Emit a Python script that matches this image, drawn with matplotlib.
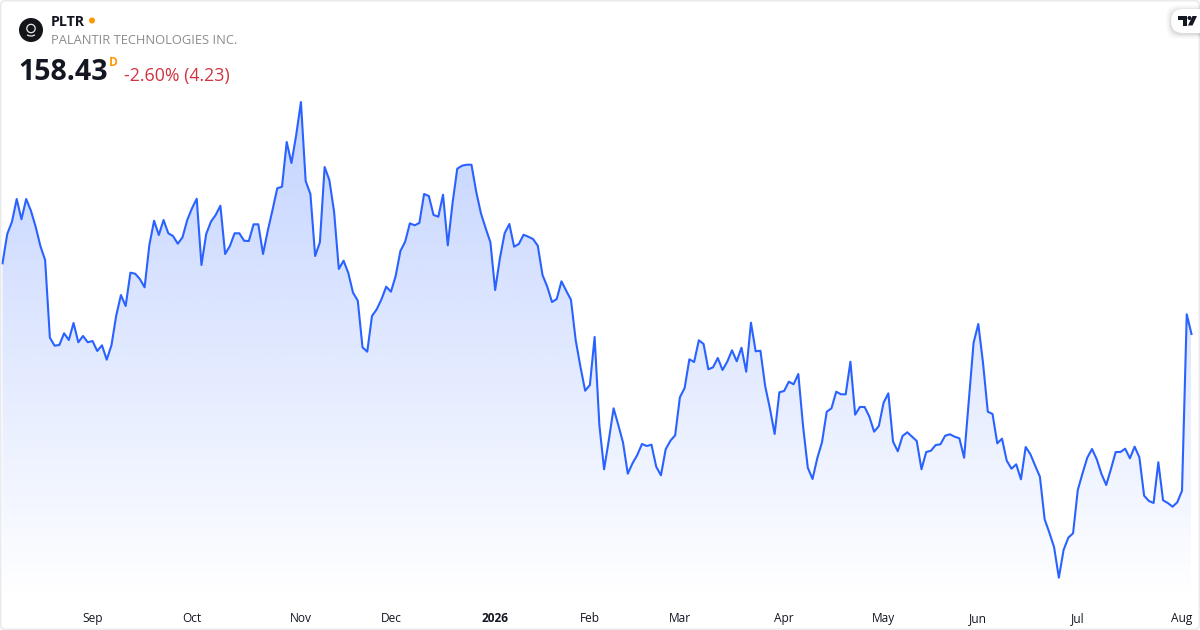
import numpy as np
import matplotlib
matplotlib.use("Agg")
import matplotlib.pyplot as plt
from matplotlib.patches import Circle, FancyBboxPatch, Polygon, Arc

plt.rcParams['font.family'] = ['Open Sans', 'Noto Sans', 'DejaVu Sans']

ticker = "PLTR"
company = "PALANTIR TECHNOLOGIES INC."
last_price = "158.43"
interval = "D"
change_text = "-2.60% (4.23)"

month_labels = ["Sep", "Oct", "Nov", "Dec", "2026", "Feb", "Mar", "Apr", "May", "Jun", "Jul", "Aug"]
month_index = [19, 40, 63, 82, 104, 124, 143, 165, 186, 206, 227, 249]

close_aug_dec = [
    173.38, 179.57, 182.17, 186.97, 182.68, 186.97, 184.50, 181.11, 177.03, 174.07,
    157.65, 155.96, 156.10, 158.58, 157.16, 160.76, 156.68, 158.01, 156.68, 156.95,
    154.84, 156.04, 153.00, 156.04, 162.30, 166.67, 164.35, 171.39, 171.18, 170.06,
    168.30, 177.24, 182.38, 179.36, 182.53, 179.72, 179.15, 177.52, 178.87, 182.53,
    185.00, 187.03, 173.02, 179.57, 182.17, 183.59, 185.55, 175.34, 177.03, 179.72,
    179.72, 178.15, 178.09, 181.62, 181.62, 175.34, 180.27, 184.64, 189.23, 189.57,
    199.02, 194.58, 200.50, 207.47, 190.77, 188.03, 174.92, 177.82, 193.73, 190.99,
    184.28, 172.17, 173.93, 171.33, 167.16, 165.47, 155.62, 154.69, 162.24, 163.65,
    165.77, 168.43, 167.37, 170.69, 175.98,
]
close_dec_apr = [
    177.94, 181.83, 181.41, 181.90, 188.03, 187.60, 183.59, 183.23, 187.88, 177.18,
    186.06, 193.37, 194.01, 194.22, 194.22, 188.51, 183.95, 180.78, 177.82, 167.73,
    174.43, 179.72, 181.68, 176.89, 177.46, 179.42, 179.00, 178.51, 177.10, 170.90,
    168.43, 165.19, 165.83, 169.57, 167.58, 165.68, 157.16, 151.52, 146.44, 147.65,
    157.80, 139.19, 129.83, 136.02, 142.72, 139.19, 135.45, 128.90, 131.10, 132.85,
    135.18, 134.75, 135.03, 130.38, 128.56, 134.06, 135.87, 137.02, 145.05, 147.01,
    153.08, 152.51, 157.10, 156.32, 150.97, 151.39, 153.36, 150.82, 152.57, 154.98,
    152.66, 155.53, 150.46, 160.82, 154.77, 154.90, 147.44, 142.72, 137.29, 146.11,
    146.38, 148.35, 147.80, 149.97,
]
close_apr_aug = [
    138.98, 130.17, 127.78, 132.15, 135.54, 142.00, 142.72, 146.23, 145.68, 145.68,
    152.57, 141.37, 143.00, 143.00, 140.95, 137.78, 138.98, 143.91, 145.89, 135.66,
    133.63, 136.87, 137.65, 136.72, 135.81, 129.83, 133.48, 133.76, 134.96, 135.11,
    136.93, 137.23, 136.72, 136.38, 132.28, 144.48, 156.59, 160.54, 152.24, 142.00,
    141.52, 135.32, 136.30, 131.65, 129.95, 130.88, 127.71, 134.54, 133.00, 130.59,
    128.26, 119.26, 116.42, 113.34, 106.91, 112.77, 115.37, 116.30, 125.45, 128.98,
    132.28, 134.12, 131.94, 128.83, 126.51, 129.89, 133.48, 133.48, 134.18, 132.15,
    134.61, 132.36, 124.25, 123.13, 122.70, 131.31, 123.27, 122.70, 121.92, 122.85,
    125.30, 162.59, 158.43,
]
close = close_aug_dec + close_dec_apr + close_apr_aug
idx = np.arange(len(close))

W, H = 1200, 630
LINE = "#2962FF"

fig = plt.figure(figsize=(W / 100, H / 100), dpi=100, facecolor="white")
ax = fig.add_axes([0, 0, 1, 1])
ax.set_facecolor("none")

px_per_bar = 4.737
px_per_usd = 4.73
x_lim = (-2.5 / px_per_bar, (W - 2.5) / px_per_bar)
ymax = close[-1] + 334 / px_per_usd
ymin = close[-1] - (H - 334) / px_per_usd

base = ymin + 30 / px_per_usd
top = max(close)
grad = np.zeros((256, 2, 4))
grad[..., 0] = 0x29 / 255
grad[..., 1] = 0x62 / 255
grad[..., 2] = 0xFF / 255
grad[..., 3] = np.linspace(0.28, 0.0, 256)[:, None]
area = ax.fill_between(idx, close, base, color="none", lw=0)
im = ax.imshow(grad, extent=[idx[0], idx[-1], base, top], origin="upper",
               aspect="auto", interpolation="bilinear", zorder=1)
im.set_clip_path(area.get_paths()[0], transform=ax.transData)
ax.set_xlim(*x_lim)
ax.set_ylim(ymin, ymax)

ax.plot(idx, close, color=LINE, lw=1.5, zorder=3, solid_joinstyle="round")

ax.set_xticks(month_index)
ax.set_xticklabels(month_labels, fontsize=8.6, color="#131722")
ax.tick_params(axis="x", length=0, direction="in", pad=-12.8)
for lab in ax.get_xticklabels():
    if lab.get_text() == "2026":
        lab.set_fontweight("bold")
ax.set_yticks([])
for s in ax.spines.values():
    s.set_visible(False)

ov = fig.add_axes([0, 0, 1, 1], facecolor="none")
ov.set_xlim(0, W)
ov.set_ylim(H, 0)
ov.axis("off")

ov.add_patch(FancyBboxPatch((0.6, 0.6), W - 1.2, H - 1.2, boxstyle="round,pad=0,rounding_size=5",
                            fc="none", ec="#e8eaee", lw=1.2))

ov.add_patch(Circle((31, 30), 12, fc="#131519", ec="none"))
ov.add_patch(Circle((31, 28.5), 4.2, fc="none", ec="#e8e8e8", lw=0.9))
ov.add_patch(Arc((31, 32.5), 10, 7, theta1=30, theta2=150, ec="#e8e8e8", lw=0.9))

ov.text(51, 21.5, ticker, fontsize=10.3, fontweight="bold", color="#131722", va="center", ha="left")
ov.add_patch(Circle((92, 20.5), 3, fc="#FF9800", ec="none"))
ov.text(51, 41, company, fontsize=9.3, color="#8c8c8c", va="center", ha="left")
ov.text(18.5, 72.5, last_price, fontsize=20.5, fontweight="bold", color="#131722", va="center", ha="left")
ov.text(109, 62, interval, fontsize=8.6, fontweight="bold", color="#FF9800", va="center", ha="left")
ov.text(124, 75.5, change_text, fontsize=12.8, color="#CF3440", va="center", ha="left")

for grow, a in [(5, 0.02), (3.5, 0.03), (2, 0.04), (1, 0.05)]:
    ov.add_patch(FancyBboxPatch((1171 - grow, 9 - grow + 1), 60, 24 + 2 * grow,
                                boxstyle="round,pad=0,rounding_size=12",
                                fc="black", ec="none", alpha=a, clip_on=True))
ov.add_patch(FancyBboxPatch((1171, 9), 60, 24, boxstyle="round,pad=0,rounding_size=12",
                            fc="white", ec="none", clip_on=True))
ov.add_patch(Polygon([(1178, 16), (1187, 16), (1187, 25.5), (1183, 25.5), (1183, 20), (1178, 20)],
                     fc="#131722", ec="none"))
ov.add_patch(Circle((1189.5, 18), 2, fc="#131722", ec="none"))
ov.add_patch(Polygon([(1192.5, 16), (1197, 16), (1192.5, 25.5), (1188, 25.5)], fc="#131722", ec="none"))

fig.savefig("out.png", dpi=100)
